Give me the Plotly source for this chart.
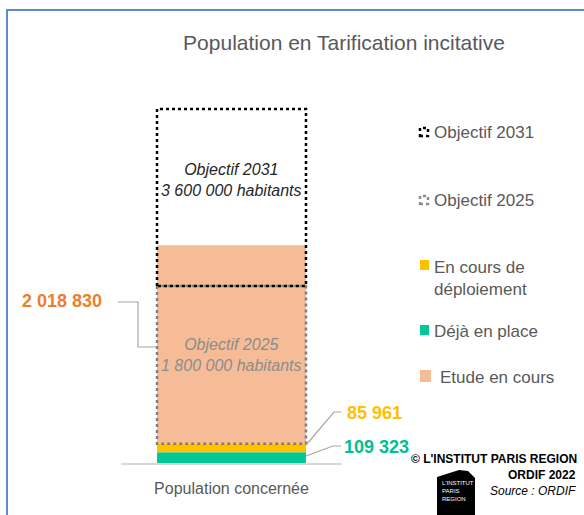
import plotly.graph_objects as go

W, H = 584, 515

category = "Population concernée"
deja_en_place = 109323
en_cours = 85961
etude = 2018830
objectif_2025 = 1800000
objectif_2031 = 3600000

col_deja = "#00C896"
col_encours = "#FFC000"
col_etude = "#F5BC97"
col_label_etude = "#ED7D31"
grey_txt = "#595959"


def px(x):
    return x / W


def py(y):
    return 1 - y / H


def fmt(v):
    return f"{v:,}".replace(",", " ")


bw = 0.674
fig = go.Figure()

# stacked actual values
base_etude = deja_en_place + en_cours
fig.add_trace(go.Bar(x=[0], y=[deja_en_place], base=[0], width=bw,
                     marker=dict(color=col_deja, line_width=0), name="Déjà en place"))
fig.add_trace(go.Bar(x=[0], y=[en_cours], base=[deja_en_place], width=bw,
                     marker=dict(color=col_encours, line_width=0), name="En cours de déploiement"))
fig.add_trace(go.Bar(x=[0], y=[etude], base=[base_etude], width=bw,
                     marker=dict(color=col_etude, line_width=0), name="Etude en cours"))

# dotted objective boxes
x0, x1 = -bw / 2, bw / 2
fig.add_trace(go.Scatter(x=[x0, x0, x1, x1, x0], y=[objectif_2025, base_etude, base_etude, objectif_2025, objectif_2025],
                         mode="lines", line=dict(color="#7F7F7F", width=2.5, dash="dot"),
                         hoverinfo="skip", name="Objectif 2025"))
fig.add_trace(go.Scatter(x=[x0, x0, x1, x1, x0],
                         y=[objectif_2025, objectif_2025 + objectif_2031 / 2, objectif_2025 + objectif_2031 / 2,
                            objectif_2025, objectif_2025],
                         mode="lines", line=dict(color="black", width=2.5, dash="dot"),
                         hoverinfo="skip", name="Objectif 2031"))

fig.add_annotation(x=0, y=(objectif_2025 + objectif_2031) / 2 + 180000, xref="x", yref="y",
                   text="<i>Objectif 2031<br>3 600 000 habitants</i>", showarrow=False,
                   yanchor="middle", font=dict(size=16, color="#262626"))
fig.add_annotation(x=0, y=objectif_2025 / 2 + 195000, xref="x", yref="y",
                   text="<i>Objectif 2025<br>1 800 000 habitants</i>", showarrow=False,
                   yanchor="middle", font=dict(size=16, color="#8C8C8C"))

shapes = []
# outer frame
shapes.append(dict(type="path", xref="paper", yref="paper",
                   path=f"M {px(7)},{py(520)} L {px(7)},{py(10)} L {px(590)},{py(10)}",
                   line=dict(color="#5B8BD0", width=2)))

# connectors
line_c = dict(color="#A6A6A6", width=1.2)
shapes.append(dict(type="path", xref="paper", yref="paper",
                   path=f"M {px(118)},{py(302)} L {px(138)},{py(302)} L {px(138)},{py(347)} L {px(157)},{py(347)}",
                   line=line_c))
shapes.append(dict(type="path", xref="paper", yref="paper",
                   path=f"M {px(306)},{py(445)} L {px(334)},{py(412)} L {px(341)},{py(412)}",
                   line=line_c))
shapes.append(dict(type="path", xref="paper", yref="paper",
                   path=f"M {px(306)},{py(456)} L {px(333)},{py(446)} L {px(341)},{py(446)}",
                   line=line_c))

fig.add_annotation(x=px(104), y=py(301), xref="paper", yref="paper", xanchor="right", yanchor="middle",
                   text=f"<b>{fmt(etude)}</b>", showarrow=False,
                   font=dict(size=18, color=col_label_etude))
fig.add_annotation(x=px(345), y=py(413), xref="paper", yref="paper", xanchor="left", yanchor="middle",
                   text=f"<b>{fmt(en_cours)}</b>", showarrow=False,
                   font=dict(size=18, color=col_encours))
fig.add_annotation(x=px(342), y=py(447), xref="paper", yref="paper", xanchor="left", yanchor="middle",
                   text=f"<b>{fmt(deja_en_place)}</b>", showarrow=False,
                   font=dict(size=18, color="#00C08F"))

# legend
leg = [
    ("Objectif 2031", 132, "dot_black"),
    ("Objectif 2025", 200, "dot_grey"),
    ("En cours de<br>déploiement", 278, col_encours),
    ("Déjà en place", 331, col_deja),
    ("Etude en cours", 377, col_etude),
]
for label, yc, kind in leg:
    if kind.startswith("dot"):
        c = "black" if kind == "dot_black" else "#8C8C8C"
        shapes.append(dict(type="rect", xref="paper", yref="paper",
                           x0=px(420), x1=px(428), y0=py(yc + 4), y1=py(yc - 4),
                           line=dict(color=c, width=2.5, dash="dot")))
        tx = 432
    else:
        ys = 266 if label.startswith("En cours") else yc
        s = 5 if label != "Etude en cours" else 6
        shapes.append(dict(type="rect", xref="paper", yref="paper",
                           x0=px(420), x1=px(420 + 2 * s - 1), y0=py(ys + s - 1), y1=py(ys - s - 1),
                           fillcolor=kind, line_width=0))
        tx = 438 if label == "Etude en cours" else 432
    fig.add_annotation(x=px(tx), y=py(yc), xref="paper", yref="paper", xanchor="left", yanchor="middle",
                       text=label, showarrow=False, align="left",
                       font=dict(size=17, color=grey_txt))

# credits
fig.add_annotation(x=px(579), y=py(459), xref="paper", yref="paper", xanchor="right", yanchor="middle",
                   text="<b>© L'INSTITUT PARIS REGION</b>", showarrow=False,
                   font=dict(size=12, color="black"))
fig.add_annotation(x=px(578), y=py(475), xref="paper", yref="paper", xanchor="right", yanchor="middle",
                   text="<b>ORDIF 2022</b>", showarrow=False,
                   font=dict(size=12, color="black"))
fig.add_annotation(x=px(578), y=py(491), xref="paper", yref="paper", xanchor="right", yanchor="middle",
                   text="<i>Source : ORDIF</i>", showarrow=False,
                   font=dict(size=12, color="black"))

# logo
shapes.append(dict(type="path", xref="paper", yref="paper",
                   path=(f"M {px(437)},{py(477)} L {px(459)},{py(470)} L {px(468)},{py(471)} "
                         f"L {px(475)},{py(478)} L {px(475)},{py(515)} L {px(437)},{py(515)} Z"),
                   fillcolor="black", line_width=0))
fig.add_annotation(x=px(440), y=py(478), xref="paper", yref="paper", xanchor="left", yanchor="top",
                   text="L'INSTITUT<br>PARIS<br>REGION", showarrow=False, align="left",
                   font=dict(size=6, color="white", family="Liberation Sans Narrow, Liberation Sans"))

fig.update_layout(
    width=W, height=H,
    margin=dict(l=0, r=0, t=0, b=0),
    paper_bgcolor="white", plot_bgcolor="white",
    barmode="overlay", showlegend=False,
    font=dict(family="Liberation Sans, Arial", color=grey_txt),
    title=dict(text="Population en Tarification incitative", x=px(344), xanchor="center",
               y=py(43), yanchor="middle", font=dict(size=21, color=grey_txt)),
    shapes=shapes,
    xaxis=dict(domain=[px(121), px(342)], range=[-0.5, 0.5], tickvals=[0], ticktext=[category],
               showgrid=False, zeroline=False, showline=True, linecolor="#D9D9D9", linewidth=1.5,
               ticks="", ticklabelstandoff=10, tickfont=dict(size=16, color=grey_txt), fixedrange=True),
    yaxis=dict(domain=[py(463), py(100)], range=[0, objectif_2031 * 363 / 354],
               visible=False, fixedrange=True),
)

fig.write_html("out.html", config={"displayModeBar": False},
               post_script="document.body.style.margin='0';")
